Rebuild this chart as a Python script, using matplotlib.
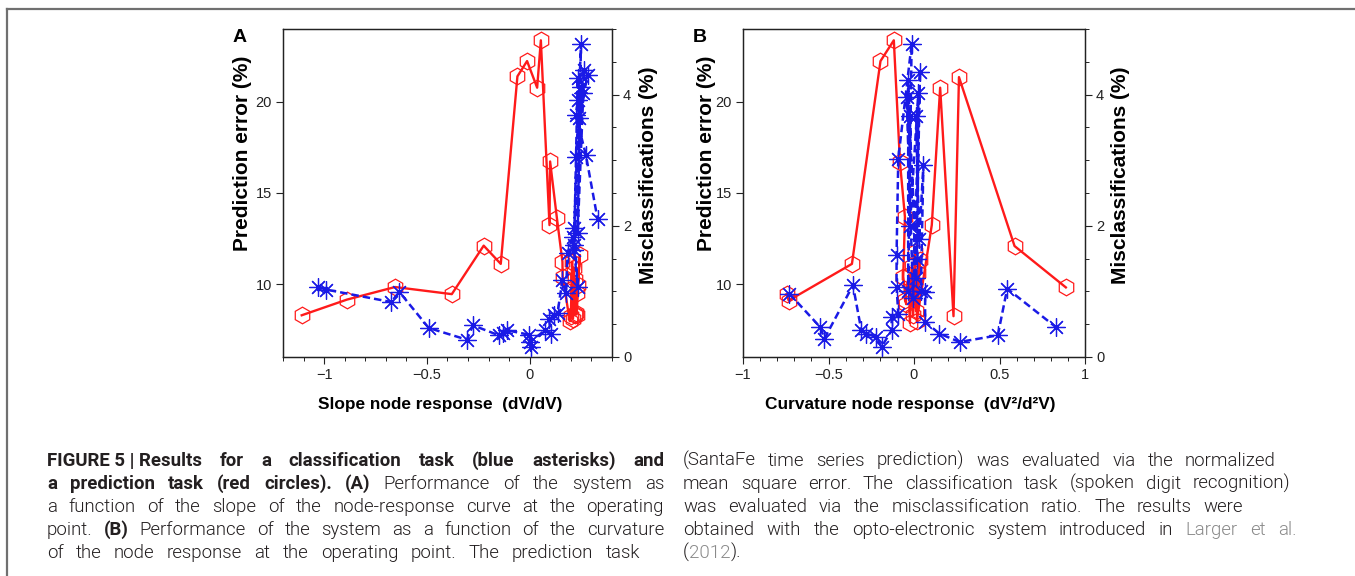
import matplotlib
matplotlib.use('Agg')
import matplotlib.pyplot as plt
from matplotlib.ticker import MultipleLocator, FixedLocator
from matplotlib.lines import Line2D

# ---------------- data ----------------
a_red_x = [-1.109, -0.889, -0.655, -0.379, -0.224, -0.141, -0.060, -0.013, 0.036, 0.054,
           0.096, 0.099, 0.132, 0.159, 0.160, 0.195, 0.200, 0.206, 0.210, 0.214,
           0.218, 0.222, 0.228, 0.236, 0.232, 0.244, 0.224]
a_red_y = [8.29, 9.15, 9.84, 9.45, 12.11, 11.11, 21.40, 22.24, 20.78, 23.38,
           13.24, 16.73, 13.63, 11.23, 10.41, 7.96, 8.23, 11.24, 8.10, 10.90,
           8.30, 10.30, 8.33, 9.96, 9.51, 11.60, 8.42]

a_blue_x = [-1.031, -0.989, -0.675, -0.634, -0.491, -0.306, -0.276, -0.150, -0.130, -0.111,
            -0.003, 0.008, 0.003, 0.073, 0.102, 0.094, 0.119, 0.135, 0.159, 0.176,
            0.184, 0.208, 0.216, 0.233, 0.216, 0.249, 0.233, 0.265, 0.224, 0.257,
            0.216, 0.233, 0.241, 0.281, 0.233, 0.249, 0.224, 0.273, 0.330]
a_blue_y = [1.067, 1.027, 0.839, 0.991, 0.442, 0.264, 0.483, 0.330, 0.360, 0.407,
            0.340, 0.152, 0.229, 0.407, 0.356, 0.585, 0.640, 0.670, 1.170, 0.970,
            1.580, 1.830, 1.630, 1.070, 1.960, 4.770, 1.890, 4.375, 3.050, 4.020,
            1.700, 4.250, 3.640, 4.300, 3.920, 4.120, 3.690, 3.080, 2.100]

b_red_x = [-0.745, -0.733, -0.363, -0.196, -0.118, -0.082, -0.053, -0.063, -0.045, -0.053,
           -0.030, -0.024, -0.012, -0.005, 0.006, 0.012, 0.022, 0.035, 0.016, 0.104,
           0.153, 0.231, 0.263, 0.588, 0.888]
b_red_y = [9.45, 9.10, 11.11, 22.24, 23.38, 16.69, 13.69, 10.41, 8.90, 9.14,
           10.50, 7.87, 11.00, 8.30, 11.78, 8.50, 10.60, 11.33, 7.96, 13.24,
           20.78, 8.24, 21.36, 12.09, 9.82]

b_blue_x = [-0.729, -0.549, -0.524, -0.357, -0.308, -0.278, -0.220, -0.190, -0.131, -0.131,
            -0.092, -0.102, -0.102, -0.092, -0.014, -0.034, -0.034, 0.012, 0.035, -0.005,
            -0.043, 0.020, 0.025, -0.024, -0.024, 0.012, 0.030, 0.055, 0.040, 0.065,
            0.065, 0.149, 0.267, 0.490, 0.545, 0.829]
b_blue_y = [0.966, 0.457, 0.280, 1.093, 0.407, 0.356, 0.305, 0.152, 0.407, 0.610,
            0.660, 1.070, 1.550, 3.020, 4.770, 1.000, 4.220, 1.200, 4.350, 0.900,
            3.970, 1.500, 4.020, 2.000, 3.670, 3.670, 1.800, 2.920, 1.000, 0.990,
            0.534, 0.356, 0.229, 0.330, 1.042, 0.457]

left_yticks = [10, 15, 20]
right_yticks = [0, 2, 4]
a_xticks = [-1, -0.5, 0]
b_xticks = [-1, -0.5, 0, 0.5, 1]

caption_left = [
    "**FIGURE~5~|~Results for a classification task (blue asterisks) and**",
    "**a prediction task (red circles). (A)** Performance of the system as",
    "a function of the slope of the node-response curve at the operating",
    "point. **(B)** Performance of the system as a function of the curvature",
    "of the node response at the operating point. The prediction task",
]
caption_right = [
    "(SantaFe time series prediction) was evaluated via the normalized",
    "mean square error. The classification task (spoken digit recognition)",
    "was evaluated via the misclassification ratio. The results were",
    "obtained with the opto-electronic system introduced in ##Larger et al.##",
    "(##2012##).",
]

# ---------------- figure ----------------
W, H = 1355, 576
plt.rcParams['font.family'] = ['Liberation Sans', 'DejaVu Sans']
fig = plt.figure(figsize=(W / 100, H / 100), dpi=100)

RED = '#ff1a1a'
BLUE = '#1a1ae6'
INK = '#231f20'
LBL = 15


def rect(l, r, t, b):
    return [l / W, 1 - b / H, (r - l) / W, (b - t) / H]


def make_panel(r, xlim, xticks, xlabel, letter, lx, xl_pos, yl_left, yl_right,
               rdx, rdy, bx, by):
    ax = fig.add_axes(r)
    ax.set_xlim(*xlim)
    ax.set_ylim(6, 24)
    ax.xaxis.set_major_locator(FixedLocator(xticks))
    ax.xaxis.set_minor_locator(MultipleLocator(0.1))
    ax.yaxis.set_major_locator(FixedLocator(left_yticks))
    ax.set_xticklabels([('%g' % t).replace('-', '\u2212') for t in xticks])
    ax.plot(rdx, rdy, color=RED, lw=1.7, marker='h', ms=12, mfc='none',
            mec=RED, mew=0.9, zorder=3)
    ax.set_xlabel(xlabel, fontsize=12.4, fontweight='bold', ha='center', va='center')
    ax.xaxis.set_label_coords(*xl_pos)
    ax.set_ylabel('Prediction error (%)', fontsize=LBL, fontweight='bold',
                  ha='center', va='center')
    ax.yaxis.set_label_coords(*yl_left)
    ax2 = ax.twinx()
    ax2.set_ylim(0, 5)
    ax2.yaxis.set_major_locator(FixedLocator(right_yticks))
    ax2.yaxis.set_minor_locator(MultipleLocator(0.5))
    ax2.plot(bx, by, color=BLUE, lw=1.8, ls=(0, (3, 1.6)), marker=(8, 2, 0), ms=13,
             mew=0.9, mec=BLUE, zorder=3)
    ax2.set_ylabel('Misclassifications (%)', fontsize=LBL, fontweight='bold',
                   ha='center', va='center')
    ax2.yaxis.set_label_coords(*yl_right)
    for a in (ax, ax2):
        a.tick_params(which='major', direction='out', length=5, width=0.8,
                      labelsize=10.5, colors='#222222', pad=3)
        a.tick_params(which='minor', direction='out', length=3, width=0.7, colors='#222222')
        for s in a.spines.values():
            s.set_linewidth(0.9)
            s.set_color('#222222')
    fig.text(lx / W, 1 - 38 / H, letter, fontsize=14, fontweight='bold',
             ha='center', va='center')
    return ax, ax2


def ax_coords(px, py, l, r, t, b):
    return ((px - l) / (r - l), (b - py) / (b - t))


A = (283, 612, 29, 357)
B = (743, 1085, 29, 357)
make_panel(rect(*A), (-1.2, 0.4), a_xticks, 'Slope node response  (dV/dV)', 'A', 240,
           ax_coords(440, 404, *A), ax_coords(242, 153, *A), ax_coords(648, 175, *A),
           a_red_x, a_red_y, a_blue_x, a_blue_y)
make_panel(rect(*B), (-1.0, 1.0), b_xticks, 'Curvature node response  (dV\u00b2/d\u00b2V)',
           'B', 700,
           ax_coords(910, 404, *B), ax_coords(706, 153, *B), ax_coords(1120, 175, *B),
           b_red_x, b_red_y, b_blue_x, b_blue_y)

# frame lines
fig.add_artist(Line2D([7 / W, 1], [1 - 9 / H, 1 - 9 / H], transform=fig.transFigure,
                      color='#707070', lw=1.6))
fig.add_artist(Line2D([7 / W, 7 / W], [0, 1 - 9 / H], transform=fig.transFigure,
                      color='#707070', lw=1.6))

# ---------------- caption (justified) ----------------
renderer = fig.canvas.get_renderer()
CAP_FONT = ['Roboto', 'Liberation Sans', 'DejaVu Sans']
CAP_FS = 13.5
REG_W = 300


def parse(line):
    words, runs, cur = [], [], ''
    bold = gray = False

    def flush_run():
        nonlocal cur
        if cur:
            runs.append((cur, bold, gray))
        cur = ''

    i = 0
    while i < len(line):
        if line.startswith('**', i):
            flush_run(); bold = not bold; i += 2; continue
        if line.startswith('##', i):
            flush_run(); gray = not gray; i += 2; continue
        c = line[i]
        if c == ' ':
            flush_run()
            if runs:
                words.append(runs)
            runs = []
        elif c == '~':
            cur += ' '
        else:
            cur += c
        i += 1
    flush_run()
    if runs:
        words.append(runs)
    return words


def width_of(txt, bold, fs):
    t = fig.text(0, 0, txt, fontsize=fs, family=CAP_FONT,
                 fontweight='bold' if bold else REG_W)
    w = t.get_window_extent(renderer).width
    t.remove()
    return w


def space_w(fs):
    return width_of('a a', False, fs) - 2 * width_of('a', False, fs)


def natural(line, fs):
    words = parse(line)
    tot = sum(width_of(t, b, fs) for w in words for (t, b, g) in w)
    return tot + space_w(fs) * (len(words) - 1)


def draw_line(line, x0, x1, ybase, fs, justify=True):
    words = parse(line)
    widths = [[width_of(t, b, fs) for (t, b, g) in w] for w in words]
    tot = sum(sum(w) for w in widths)
    if justify and len(words) > 1:
        gap = (x1 - x0 - tot) / (len(words) - 1)
    else:
        gap = space_w(fs)
    x = x0
    for w, ws in zip(words, widths):
        for (t, b, g), wd in zip(w, ws):
            fig.text(x / W, 1 - ybase / H, t, fontsize=fs, family=CAP_FONT,
                     fontweight='bold' if b else REG_W,
                     color='#8a8a8a' if g else INK, ha='left', va='baseline')
            x += wd
        x += gap


baselines = [466, 489, 512, 535, 558]
L0, R0 = 47, 683
left_edges = [664, 664, 664, 664, 640]
right_edges = [1276, 1290, 1243, 1297, None]

scale = 1.0
for ln, xr in zip(caption_left, left_edges):
    scale = min(scale, (xr - L0) / natural(ln, CAP_FS))
for ln, xr in zip(caption_right, right_edges):
    if xr:
        scale = min(scale, (xr - R0) / natural(ln, CAP_FS))
fs = CAP_FS * min(1.0, scale * 0.995)

for ln, yb, xr in zip(caption_left, baselines, left_edges):
    draw_line(ln, L0, xr, yb, fs)
for ln, yb, xr in zip(caption_right, baselines, right_edges):
    draw_line(ln, R0, xr if xr else 0, yb, fs, justify=xr is not None)

fig.savefig('out.png', dpi=100)
